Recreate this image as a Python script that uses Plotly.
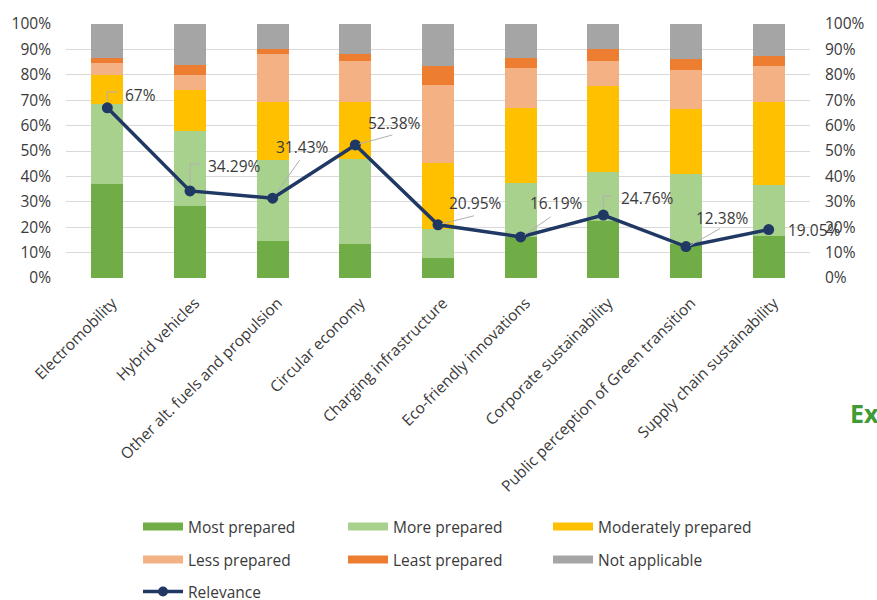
import plotly.graph_objects as go

# ---- data -------------------------------------------------------------
categories = [
    "Electromobility",
    "Hybrid vehicles",
    "Other alt. fuels and propulsion",
    "Circular economy",
    "Charging infrastructure",
    "Eco-friendly innovations",
    "Corporate sustainability",
    "Public perception of Green transition",
    "Supply chain sustainability",
]

most_prepared = [37.1, 28.2, 14.7, 13.4, 8.0, 16.0, 22.5, 13.4, 16.7]
more_prepared = [31.4, 29.8, 31.9, 33.6, 11.3, 21.3, 19.4, 27.4, 19.9]
moderately_prepared = [11.4, 16.2, 22.8, 22.4, 25.8, 29.8, 33.5, 25.6, 32.7]
less_prepared = [4.8, 5.8, 18.7, 16.1, 31.0, 15.7, 10.0, 15.5, 14.3]
least_prepared = [1.9, 3.7, 1.9, 2.5, 7.4, 3.9, 4.6, 4.5, 3.9]
not_applicable = [13.4, 16.3, 10.0, 12.0, 16.5, 13.3, 10.0, 13.6, 12.5]

relevance = [67, 34.29, 31.43, 52.38, 20.95, 16.19, 24.76, 12.38, 19.05]

# ---- styling ----------------------------------------------------------
FONT = "Open Sans"
TEXT = "#3a3a3a"
series = [
    ("Most prepared", most_prepared, "#70AD47"),
    ("More prepared", more_prepared, "#A9D18E"),
    ("Moderately prepared", moderately_prepared, "#FFC000"),
    ("Less prepared", less_prepared, "#F4B183"),
    ("Least prepared", least_prepared, "#ED7D31"),
    ("Not applicable", not_applicable, "#A5A5A5"),
]
LINE_COLOR = "#203864"

# label placement (pixel offsets from each marker) and leader-line paths
label_dx = [16, 16, 1, 11, 9, 7, 16, 8, 17]
label_dy = [13, 25, 51, 22, 22, 34, 17, 29, 0]
leaders = [
    "M0,6 L0,16 L10,16",
    "M0,6 L0,27 L10,27",
    "M3,4 L27,38",
    "M4,1 L37,10",
    "M4,1 L36,9",
    "M4,2 L30,20",
    "M0,7 L0,19 L8,19",
    "M4,1 L34,18",
    None,
]

fig = go.Figure()

for name, vals, color in series:
    fig.add_trace(go.Bar(
        x=categories, y=vals, name=name,
        marker=dict(color=color, line=dict(width=0)),
        width=0.39, showlegend=False, hoverinfo="skip",
    ))

fig.add_trace(go.Scatter(
    x=categories, y=relevance, name="Relevance", yaxis="y2",
    mode="lines+markers",
    line=dict(color=LINE_COLOR, width=3.5),
    marker=dict(color=LINE_COLOR, size=11),
    showlegend=False,
))

# legend entries: wide swatches for the bar series, line+marker for relevance
legend_ids = ["legend", "legend", "legend", "legend2", "legend2", "legend2"]
for (name, _, color), lg in zip(series, legend_ids):
    fig.add_trace(go.Scatter(
        x=[None], y=[None], name=name, mode="lines",
        line=dict(color=color, width=8), legend=lg,
    ))
fig.add_trace(go.Scatter(
    x=[None], y=[None], name="Relevance", mode="lines+markers",
    line=dict(color=LINE_COLOR, width=3.5),
    marker=dict(color=LINE_COLOR, size=10), legend="legend3",
))

# value labels and leader lines
for cat, val, dx, dy, path in zip(categories, relevance, label_dx, label_dy, leaders):
    fig.add_annotation(
        x=cat, y=val, xref="x", yref="y2",
        text=f"{val:g}%", showarrow=False,
        xanchor="left", yanchor="middle", xshift=dx, yshift=dy,
        font=dict(family=FONT, size=15.5, color=TEXT),
    )
    if path:
        fig.add_shape(
            type="path", xref="x", yref="y2",
            xsizemode="pixel", ysizemode="pixel",
            xanchor=cat, yanchor=val, path=path,
            line=dict(color="#b0b0b0", width=1),
        )

fig.add_annotation(
    x=1.0517, y=-0.531, xref="paper", yref="paper",
    text="<b>Ex</b>", showarrow=False, xanchor="left", yanchor="middle",
    font=dict(family=FONT, size=25, color="#3f9b35"),
)

legend_common = dict(
    orientation="h", xref="container", yref="container",
    xanchor="left", yanchor="middle",
    entrywidth=150, itemwidth=40, traceorder="normal",
    bgcolor="rgba(0,0,0,0)",
    font=dict(family=FONT, size=15.5, color=TEXT),
)

axis_font = dict(family=FONT, size=15.5, color=TEXT)

fig.update_layout(
    width=877, height=600,
    margin=dict(l=66, r=56, t=19, b=322),
    paper_bgcolor="white", plot_bgcolor="white",
    barmode="stack",
    xaxis=dict(
        type="category", range=[-0.5, 8.5],
        tickangle=-45, tickfont=axis_font,
        showgrid=False, showline=False, ticks="",
        ticklabelstandoff=12, ticklabelshift=5,
    ),
    yaxis=dict(
        range=[0, 100], dtick=10, ticksuffix="%",
        tickfont=axis_font, showgrid=True, gridcolor="#d9d9d9", gridwidth=1,
        zeroline=False, showline=False, ticks="", ticklabelstandoff=14,
    ),
    yaxis2=dict(
        range=[0, 100], dtick=10, ticksuffix="%", overlaying="y", side="right",
        tickfont=axis_font, showgrid=False, zeroline=False, showline=False,
        ticks="", ticklabelstandoff=14,
    ),
    legend=dict(legend_common, x=138 / 877, y=1 - 527 / 600),
    legend2=dict(legend_common, x=138 / 877, y=1 - 560 / 600),
    legend3=dict(legend_common, x=138 / 877, y=1 - 592 / 600),
)

fig.write_html("out.html")
